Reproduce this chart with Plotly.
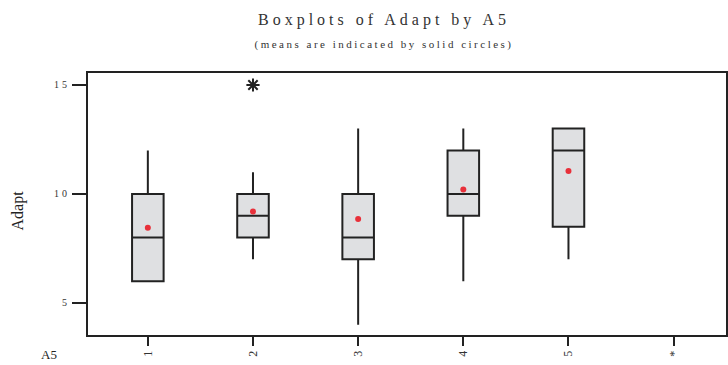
import plotly.graph_objects as go

groups = [1, 2, 3, 4, 5]
lower_whisker = [6, 7, 4, 6, 7]
q1_vals = [6, 8, 7, 9, 8.5]
median_vals = [8, 9, 8, 10, 12]
q3_vals = [10, 10, 10, 12, 13]
upper_whisker = [12, 11, 13, 13, 13]
mean_vals = [8.45, 9.2, 8.85, 10.2, 11.05]
outlier_x = [2]
outlier_y = [15]
tick_positions = [1, 2, 3, 4, 5, 6]
tick_labels = ["1", "2", "3", "4", "5", "*"]
y_ticks = [5, 10, 15]
y_tick_labels = ["5", "10", "15"]

SERIF = "Liberation Serif, Times New Roman, serif"
INK = "#222222"

fig = go.Figure()
fig.add_trace(go.Box(
    x=groups, q1=q1_vals, median=median_vals, q3=q3_vals,
    lowerfence=lower_whisker, upperfence=upper_whisker,
    width=0.3, whiskerwidth=0, boxpoints=False,
    fillcolor="#dfe0e2", line=dict(color=INK, width=2),
    showlegend=False, hoverinfo="skip",
))
fig.add_trace(go.Scatter(
    x=groups, y=mean_vals, mode="markers",
    marker=dict(color="#e8303a", size=6, symbol="circle"),
    showlegend=False,
))
fig.add_trace(go.Scatter(
    x=outlier_x, y=outlier_y, mode="markers",
    marker=dict(symbol="asterisk-open", size=11, color=INK, line=dict(color=INK, width=2)),
    showlegend=False,
))

fig.update_layout(
    width=728, height=365,
    margin=dict(l=88, r=0, t=73, b=30),
    paper_bgcolor="white", plot_bgcolor="white",
    font=dict(family=SERIF, color="#333333"),
    xaxis=dict(
        range=[0.431, 6.498], tickmode="array", tickvals=tick_positions, ticktext=tick_labels,
        tickangle=-90, ticks="outside", ticklen=9, tickwidth=2, tickcolor=INK,
        showline=True, linecolor=INK, linewidth=2, mirror=True,
        showgrid=False, zeroline=False, tickfont=dict(size=12, family=SERIF, color="#333"),
    ),
    yaxis=dict(
        range=[3.53, 15.55], tickmode="array", tickvals=y_ticks, ticktext=y_tick_labels,
        ticks="outside", ticklen=14, tickwidth=2, tickcolor=INK,
        showline=True, linecolor=INK, linewidth=2, mirror=True,
        showgrid=False, zeroline=False, tickfont=dict(size=10, family=SERIF, color="#333"),
    ),
    annotations=[
        dict(text="Boxplots of Adapt by A5", xref="paper", yref="paper",
             x=0.464, y=1.202, xanchor="center", yanchor="middle", showarrow=False,
             font=dict(size=16, family=SERIF, color="#333")),
        dict(text="(means are indicated by solid circles)", xref="paper", yref="paper",
             x=0.464, y=1.11, xanchor="center", yanchor="middle", showarrow=False,
             font=dict(size=11, family=SERIF, color="#333")),
        dict(text="Adapt", xref="paper", yref="paper", x=-0.109, y=0.477,
             xanchor="center", yanchor="middle", textangle=-90, showarrow=False,
             font=dict(size=16, family=SERIF, color="#222")),
        dict(text="A5", xref="paper", yref="paper", x=-0.061, y=-0.076,
             xanchor="center", yanchor="middle", showarrow=False,
             font=dict(size=13, family=SERIF, color="#222")),
    ],
)

post = """
document.body.style.margin = '0';
var ann = document.querySelectorAll('.annotation-text');
if (ann[0]) { ann[0].style.letterSpacing = '4px'; }
if (ann[1]) { ann[1].style.letterSpacing = '2.5px'; }
document.querySelectorAll('.ytick text').forEach(function(t){ t.style.letterSpacing = '3px'; });
"""

fig.write_html("out.html", post_script=post, config={"displayModeBar": False})
